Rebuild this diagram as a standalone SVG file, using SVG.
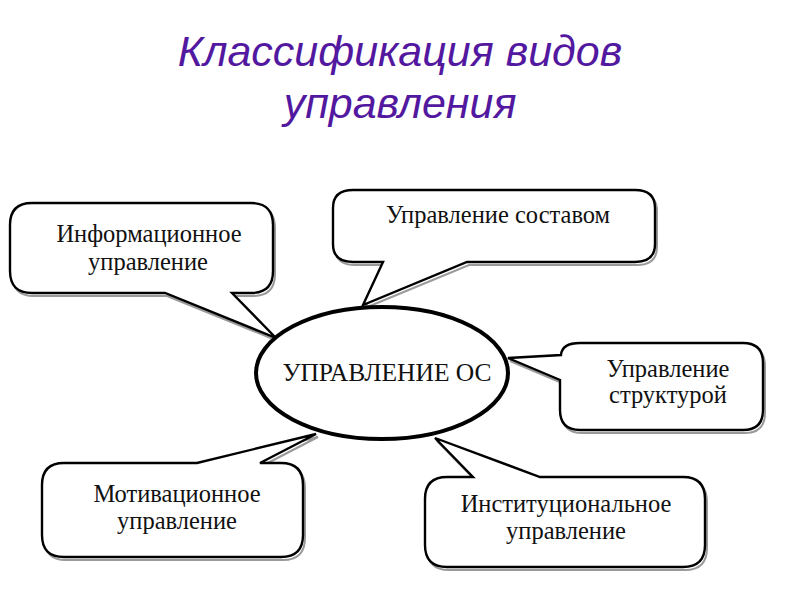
<svg xmlns="http://www.w3.org/2000/svg" width="800" height="600" viewBox="0 0 800 600">
<style>
.title{font-family:"Liberation Sans",Arial,sans-serif;font-style:italic;font-size:43px;fill:#5318a0;text-anchor:middle}
.lbl{font-family:"Liberation Serif","Times New Roman",serif;font-size:24.5px;fill:#111;text-anchor:middle}
.box{fill:#fff;stroke:#000;stroke-width:2.4;stroke-linejoin:miter}
.shadow{fill:none;stroke:#9a9a9a;stroke-width:2}
.oval{fill:#fff;stroke:#000;stroke-width:4}
</style>
<rect width="800" height="600" fill="#fff"/>
<g id="title">
<text class="title" x="400" y="66">Классификация видов</text>
<text class="title" x="400" y="118">управления</text>
</g>
<g id="n-info">
<path class="shadow" transform="translate(2,3)" d="M32,203 H251 Q273,203 273,225 V271 Q273,293 251,293 H232 L276,338 L165,293 H32 Q10,293 10,271 V225 Q10,203 32,203 Z"/>
<path class="box" d="M32,203 H251 Q273,203 273,225 V271 Q273,293 251,293 H232 L276,338 L165,293 H32 Q10,293 10,271 V225 Q10,203 32,203 Z"/>
<text class="lbl" x="149" y="242">Информационное</text>
<text class="lbl" x="148" y="270">управление</text>
</g>
<g id="n-sostav">
<path class="shadow" transform="translate(2,3)" d="M353,190 H635 Q655,190 655,208 V244 Q655,262 635,262 H467 L363,305 L383,262 H353 Q333,262 333,244 V208 Q333,190 353,190 Z"/>
<path class="box" d="M353,190 H635 Q655,190 655,208 V244 Q655,262 635,262 H467 L363,305 L383,262 H353 Q333,262 333,244 V208 Q333,190 353,190 Z"/>
<text class="lbl" x="498" y="223">Управление составом</text>
</g>
<g id="n-struct">
<path class="shadow" transform="translate(2,3)" d="M580,343 H743 Q763,343 763,363 V410 Q763,430 743,430 H580 Q560,430 560,410 V380 L508,358 L561,355 Q562,343 580,343 Z"/>
<path class="box" d="M580,343 H743 Q763,343 763,363 V410 Q763,430 743,430 H580 Q560,430 560,410 V380 L508,358 L561,355 Q562,343 580,343 Z"/>
<text class="lbl" x="668" y="377">Управление</text>
<text class="lbl" x="668" y="403">структурой</text>
</g>
<g id="n-motiv">
<path class="shadow" transform="translate(2,3)" d="M64,463 H197 L316,434 L260,463 H281 Q303,463 303,485 V535 Q303,557 281,557 H64 Q42,557 42,535 V485 Q42,463 64,463 Z"/>
<path class="box" d="M64,463 H197 L316,434 L260,463 H281 Q303,463 303,485 V535 Q303,557 281,557 H64 Q42,557 42,535 V485 Q42,463 64,463 Z"/>
<text class="lbl" x="177" y="502">Мотивационное</text>
<text class="lbl" x="177" y="529">управление</text>
</g>
<g id="n-inst">
<path class="shadow" transform="translate(2,3)" d="M447,477 H473 L435,438 L540,477 H683 Q705,477 705,499 V545 Q705,567 683,567 H447 Q425,567 425,545 V499 Q425,477 447,477 Z"/>
<path class="box" d="M447,477 H473 L435,438 L540,477 H683 Q705,477 705,499 V545 Q705,567 683,567 H447 Q425,567 425,545 V499 Q425,477 447,477 Z"/>
<text class="lbl" x="566" y="512">Институциональное</text>
<text class="lbl" x="566" y="539">управление</text>
</g>
<g id="connectors"></g>
<g id="n-center">
<ellipse class="oval" cx="382" cy="373" rx="126" ry="66"/>
<text class="lbl" x="387" y="381" style="font-size:25.5px">УПРАВЛЕНИЕ ОС</text>
</g>
</svg>
